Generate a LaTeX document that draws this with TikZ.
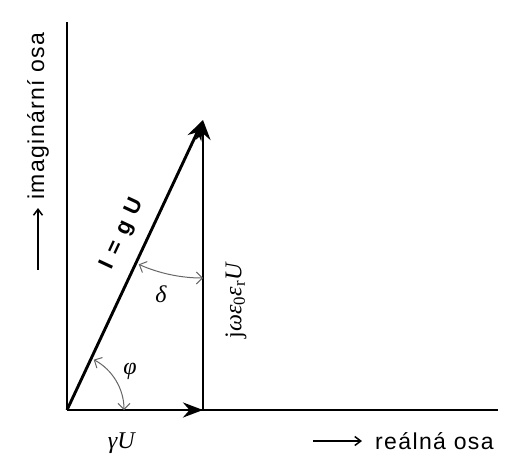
\RequirePackage{fix-cm}
\documentclass[tikz,border=0pt]{standalone}
\usepackage{fontspec}
\usepackage{tikz}
\usetikzlibrary{arrows.meta}
\newfontfamily\axisfont[LetterSpace=6]{Liberation Sans}
\newfontfamily\boldfont{Liberation Sans}
\newfontfamily\symfont{Liberation Serif}

\begin{document}
\begin{tikzpicture}[x=1pt,y=1pt,
  axis/.style={line width=1.4pt},
  vec/.style={line width=2.9pt,-{Stealth[length=20pt,width=15pt]}},
  angmark/.style={black!60,line width=1pt,{Straight Barb[length=6pt]}-{Straight Barb[length=6pt]}},
  osaarr/.style={line width=1.5pt,-{Straight Barb[length=6pt,width=9pt]}},
  mlab/.style={font=\symfont\fontsize{24}{24}\selectfont},
  axlab/.style={font=\axisfont\fontsize{23}{23}\selectfont,inner sep=0pt}]
  \useasboundingbox (0,0) rectangle (516,456);
  % osy
  \coordinate (O) at (67,46);
  \coordinate (xend) at (498,46);
  \coordinate (yend) at (67,434);
  \draw[axis] (O) -- (xend);
  \draw[axis] (O) -- (yend);
  % fazory
  \coordinate (F) at (203,46);
  \coordinate (T) at (203,336);
  \draw[vec] (O) -- (F);
  \draw[vec] (F) -- (T);
  \draw[vec] (O) -- (T);
  % uhly
  \draw[angmark] (O) ++(0:57) arc[start angle=0,end angle=62,radius=57];
  \draw[angmark] (T) ++(-90:158) arc[start angle=-90,end angle=-114,radius=158];
  % popisky
  \node[font=\boldfont\bfseries\fontsize{22}{22}\selectfont,rotate=65] (IgU) at (123,222)
    {I\hspace{9pt}=\hspace{9pt}g\hspace{9pt}U};
  \node[mlab,rotate=90] (jU) at (236,156) {j\textit{ωε}\textsubscript{0}\textit{ε}\textsubscript{r}\textit{U}};
  \node[mlab] (delta) at (161,162) {\textit{δ}};
  \node[mlab] (phi) at (130,85) {\textit{φ}};
  \node[mlab] (gamU) at (122,13) {\textit{γU}};
  % nazvy os
  \node[axlab,anchor=west] (re) at (375,15) {reálná osa};
  \coordinate (restart) at (313,15);
  \draw[osaarr,shorten >=13pt] (restart) -- (re.west);
  \node[axlab,rotate=90,anchor=west] (im) at (38,256) {imaginární osa};
  \coordinate (imstart) at (38,186);
  \draw[osaarr,shorten >=8pt] (imstart) -- (im.west);
\end{tikzpicture}
\end{document}
